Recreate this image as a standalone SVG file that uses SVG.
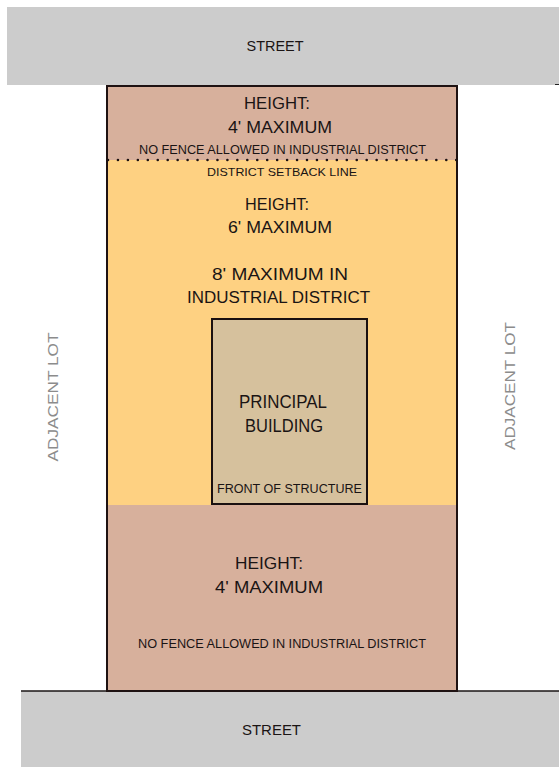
<svg xmlns="http://www.w3.org/2000/svg" width="559" height="767" viewBox="0 0 559 767">
<style>
text{font-family:"Liberation Sans",Arial,sans-serif;text-anchor:middle;fill:#1a1414}
.big{font-size:16px}
.sm{font-size:12px}
.lot{font-size:15px;fill:#8c8c8c}
.street{fill:#cccccc}
</style>
<rect width="559" height="767" fill="#ffffff"/>
<g id="street-top">
<rect class="street" x="7" y="7" width="552" height="78"/>
<line x1="555" y1="84.5" x2="559" y2="84.5" stroke="#222" stroke-width="1"/>
<text x="275" y="51" font-size="14" textLength="57" lengthAdjust="spacingAndGlyphs">STREET</text>
</g>
<g id="street-bottom">
<rect class="street" x="21" y="691" width="538" height="76"/>
<line x1="21" y1="691" x2="559" y2="691" stroke="#1a1414" stroke-width="1.5"/>
<text x="271.5" y="735" font-size="14" textLength="59" lengthAdjust="spacingAndGlyphs">STREET</text>
</g>
<g id="lot">
<rect x="107" y="86" width="350" height="74" fill="#d7b09c"/>
<rect x="107" y="160" width="350" height="345" fill="#fed182"/>
<rect x="107" y="505" width="350" height="186" fill="#d7b09c"/>
<rect x="107" y="86" width="350" height="605" fill="none" stroke="#1e1212" stroke-width="2"/>
<line x1="108" y1="160" x2="457" y2="160" stroke="#1e1212" stroke-width="2.6" stroke-dasharray="0 9.95" stroke-linecap="round"/>
</g>
<g id="front-zone">
<text class="big" x="277" y="109" textLength="66" lengthAdjust="spacingAndGlyphs">HEIGHT:</text>
<text class="big" x="280" y="133" textLength="104" lengthAdjust="spacingAndGlyphs">4' MAXIMUM</text>
<text class="sm" x="282.5" y="154" textLength="287" lengthAdjust="spacingAndGlyphs">NO FENCE ALLOWED IN INDUSTRIAL DISTRICT</text>
</g>
<g id="setback-label">
<text x="282" y="176" font-size="11.5" textLength="150" lengthAdjust="spacingAndGlyphs">DISTRICT SETBACK LINE</text>
</g>
<g id="side-zone">
<text class="big" x="277" y="210" textLength="64" lengthAdjust="spacingAndGlyphs">HEIGHT:</text>
<text class="big" x="280" y="233" textLength="104" lengthAdjust="spacingAndGlyphs">6' MAXIMUM</text>
<text class="big" x="280" y="280" textLength="136" lengthAdjust="spacingAndGlyphs">8' MAXIMUM IN</text>
<text class="big" x="278.5" y="303" textLength="183" lengthAdjust="spacingAndGlyphs">INDUSTRIAL DISTRICT</text>
</g>
<g id="principal-building">
<rect x="212" y="319" width="155" height="185" fill="#d6c19d" stroke="#1a1010" stroke-width="2"/>
<text x="283" y="408" font-size="18" textLength="88" lengthAdjust="spacingAndGlyphs">PRINCIPAL</text>
<text x="284" y="432" font-size="18" textLength="78" lengthAdjust="spacingAndGlyphs">BUILDING</text>
<text class="sm" x="289.5" y="493" textLength="145" lengthAdjust="spacingAndGlyphs">FRONT OF STRUCTURE</text>
</g>
<g id="rear-zone">
<text class="big" x="269" y="569" textLength="68" lengthAdjust="spacingAndGlyphs">HEIGHT:</text>
<text class="big" x="269" y="593" textLength="108" lengthAdjust="spacingAndGlyphs">4' MAXIMUM</text>
<text class="sm" x="282" y="648" textLength="288" lengthAdjust="spacingAndGlyphs">NO FENCE ALLOWED IN INDUSTRIAL DISTRICT</text>
</g>
<g id="adjacent-left">
<text class="lot" transform="translate(58,397) rotate(-90)" textLength="129" lengthAdjust="spacingAndGlyphs">ADJACENT LOT</text>
</g>
<g id="adjacent-right">
<text class="lot" transform="translate(515,386) rotate(-90)" textLength="128" lengthAdjust="spacingAndGlyphs">ADJACENT LOT</text>
</g>
<g id="connectors"></g>
</svg>
